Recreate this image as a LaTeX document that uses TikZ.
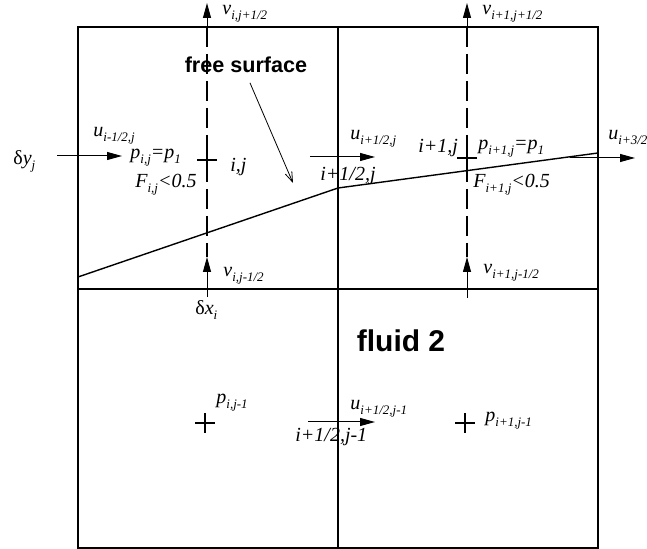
\documentclass[tikz,border=0pt]{standalone}
\usepackage{fontspec}
\setmainfont{Liberation Serif}
\setsansfont{Liberation Sans}
\usetikzlibrary{arrows.meta}
\newcommand{\ix}[1]{\raisebox{-2.2pt}{\fontsize{6.5}{7}\selectfont #1}}
\tikzset{
  cell/.style={line width=1.2pt},
  axis/.style={line width=1pt, dash pattern=on 10pt off 3.5pt},
  vel/.style={line width=0.5pt, -{Triangle[length=7.5pt,width=4pt]}},
  note/.style={line width=0.4pt, -{Straight Barb[length=5pt,width=3.5pt]}},
  cross/.style={line width=1.1pt},
  lbl/.style={font=\fontsize{10}{12}\selectfont\itshape, inner sep=0pt, anchor=base west},
  tit/.style={font=\sffamily\bfseries, inner sep=0pt, anchor=base}
}
\begin{document}
\begin{tikzpicture}[x=0.5pt, y=-0.5pt]
  \useasboundingbox (0,0) rectangle (647,549);
  % cells
  \draw[cell] (78,27) rectangle (598,548);
  \draw[cell] (338,27) -- (338,548) (78,289) -- (598,289);
  % free surface
  \draw[line width=0.7pt] (78,277) -- (338,188) -- (598,153);
  % end points of the velocity arrows
  \coordinate (v1a) at (207,27);  \coordinate (v1b) at (207,3);
  \coordinate (v2a) at (467,27);  \coordinate (v2b) at (467,3);
  \coordinate (v3a) at (207,297); \coordinate (v3b) at (207,257);
  \coordinate (v4a) at (467,298); \coordinate (v4b) at (467,257);
  \coordinate (u1a) at (57,156);  \coordinate (u1b) at (122,156);
  \coordinate (u2a) at (310,157); \coordinate (u2b) at (375,157);
  \coordinate (u3a) at (570,158); \coordinate (u3b) at (635,158);
  \coordinate (u4a) at (308,422); \coordinate (u4b) at (375,422);
  \draw[axis] (v1a) -- (v3b);
  \draw[axis] (v2a) -- (v4b);
  \draw[vel] (v1a) -- (v1b); \draw[vel] (v2a) -- (v2b);
  \draw[vel] (v3a) -- (v3b); \draw[vel] (v4a) -- (v4b);
  \draw[vel] (u1a) -- (u1b); \draw[vel] (u2a) -- (u2b);
  \draw[vel] (u3a) -- (u3b); \draw[vel] (u4a) -- (u4b);
  % pressure points
  \foreach \x/\y in {207/160, 467/158, 205/423, 465/423}
    \draw[cross] (\x-10,\y) -- (\x+10,\y) (\x,\y-10) -- (\x,\y+10);
  % labels
  \node (vt1) [lbl] at (222,15) {v\ix{i,j+1/2}};
  \node (vt2) [lbl] at (482,15) {v\ix{i+1,j+1/2}};
  \node (dy)  [lbl] at (13,165) {{\upshape δ}y\ix{j}};
  \node (ut1) [lbl] at (93,137) {u\ix{i-1/2,j}};
  \node (p1)  [lbl] at (130,159) {p\ix{i,j}=p\ix{1}};
  \node (c1)  [lbl] at (230,172) {i,j};
  \node (f1)  [lbl] at (135,188) {F\ix{i,j}<0.5};
  \node (ut2) [lbl] at (350,140) {u\ix{i+1/2,j}};
  \node (c12) [lbl] at (320,181) {i+1/2,j};
  \node (c2)  [lbl] at (418,153) {i+1,j};
  \node (p2)  [lbl] at (478,150) {p\ix{i+1,j}=p\ix{1}};
  \node (f2)  [lbl] at (473,188) {F\ix{i+1,j}<0.5};
  \node (ut3) [lbl] at (608,140) {u\ix{i+3/2,j}};
  \node (vb1) [lbl] at (223,277) {v\ix{i,j-1/2}};
  \node (vb2) [lbl] at (483,274) {v\ix{i+1,j-1/2}};
  \node (dx)  [lbl] at (195,315) {{\upshape δ}x\ix{i}};
  \node (p3)  [lbl] at (216,404) {p\ix{i,j-1}};
  \node (ut4) [lbl] at (350,410) {u\ix{i+1/2,j-1}};
  \node (c34) [lbl] at (295,442) {i+1/2,j-1};
  \node (p4)  [lbl] at (485,422) {p\ix{i+1,j-1}};
  \node (fs)  [tit, font=\sffamily\bfseries\fontsize{10.8}{13}\selectfont] at (246,73) {free surface};
  \node (fl)  [tit, font=\sffamily\bfseries\fontsize{15}{18}\selectfont] at (401,352) {fluid 2};
  \coordinate (fsTip) at (293,183);
  \draw[note, shorten <=5pt] (fs.south) -- (fsTip);
\end{tikzpicture}
\end{document}
